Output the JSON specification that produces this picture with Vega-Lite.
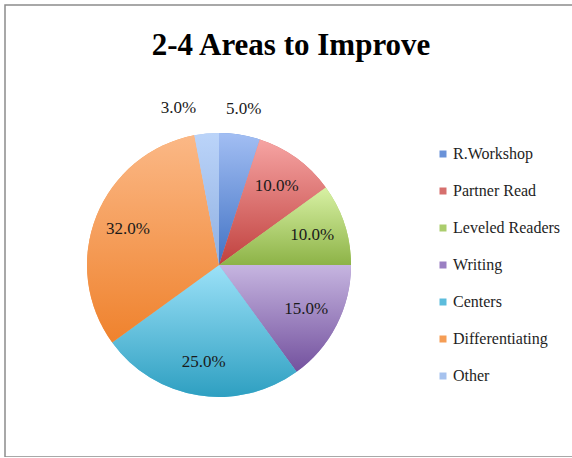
{
  "$schema": "https://vega.github.io/schema/vega-lite/v6.json",
  "autosize": "none",
  "width": 572,
  "height": 452,
  "padding": {"left": 5, "top": 5, "right": 0, "bottom": 0},
  "background": "white",
  "config": {"view": {"stroke": "#8c8c8c", "strokeWidth": 1.5}},
  "title": {
    "text": "2-4 Areas to Improve",
    "font": "Liberation Serif",
    "fontSize": 31,
    "fontWeight": "bold",
    "color": "#000000",
    "anchor": "middle",
    "offset": -58
  },
  "data": {
    "values": [
      {"idx": 1, "area": "R.Workshop", "value": 0.05},
      {"idx": 2, "area": "Partner Read", "value": 0.10},
      {"idx": 3, "area": "Leveled Readers", "value": 0.10},
      {"idx": 4, "area": "Writing", "value": 0.15},
      {"idx": 5, "area": "Centers", "value": 0.25},
      {"idx": 6, "area": "Differentiating", "value": 0.32},
      {"idx": 7, "area": "Other", "value": 0.03}
    ]
  },
  "layer": [
    {
      "data": {"values": [{"frame": 1}]},
      "mark": {"type": "rect", "fill": null, "stroke": "#8c8c8c", "strokeWidth": 1.5},
      "encoding": {}
    },
    {
      "transform": [{"stack": "value", "groupby": [], "sort": [{"field": "idx", "order": "ascending"}], "as": ["v0", "v1"]}],
      "mark": {"type": "arc", "outerRadius": 132, "x": 214, "y": 260},
      "encoding": {
        "theta": {"field": "v0", "type": "quantitative", "scale": {"domain": [0, 1]}},
        "theta2": {"field": "v1"},
        "color": {
          "field": "area",
          "type": "nominal",
          "scale": {
            "domain": ["R.Workshop", "Partner Read", "Leveled Readers", "Writing", "Centers", "Differentiating", "Other"],
            "range": ["#6A92D8", "#D66F6D", "#ABCD6D", "#9A7FC2", "#5CBCDC", "#F59D55", "#A6C2EE"]
          },
          "legend": {
            "orient": "none",
            "legendX": 430,
            "legendY": 141,
            "title": null,
            "labelFont": "Liberation Serif",
            "labelFontSize": 16,
            "labelColor": "#1e1e1e",
            "labelOffset": 2,
            "symbolType": "square",
            "symbolSize": 49,
            "symbolStrokeWidth": 0,
            "rowPadding": 21
          }
        }
      }
    },
    {
      "transform": [{"stack": "value", "groupby": [], "sort": [{"field": "idx", "order": "ascending"}], "as": ["v0", "v1"]}, {"filter": "datum.area === 'R.Workshop'"}],
      "mark": {"type": "arc", "outerRadius": 132, "x": 214, "y": 260, "fill": {"gradient": "linear", "x1": 0, "y1": 0, "x2": 0, "y2": 1, "stops": [{"offset": 0, "color": "#A2BEF3"}, {"offset": 1, "color": "#4172C4"}]}},
      "encoding": {"theta": {"field": "v0", "type": "quantitative", "scale": {"domain": [0, 1]}}, "theta2": {"field": "v1"}}
    },
    {
      "transform": [{"stack": "value", "groupby": [], "sort": [{"field": "idx", "order": "ascending"}], "as": ["v0", "v1"]}, {"filter": "datum.area === 'Partner Read'"}],
      "mark": {"type": "arc", "outerRadius": 132, "x": 214, "y": 260, "fill": {"gradient": "linear", "x1": 0, "y1": 0, "x2": 0, "y2": 1, "stops": [{"offset": 0, "color": "#F6A4A3"}, {"offset": 1, "color": "#C0413E"}]}},
      "encoding": {"theta": {"field": "v0", "type": "quantitative", "scale": {"domain": [0, 1]}}, "theta2": {"field": "v1"}}
    },
    {
      "transform": [{"stack": "value", "groupby": [], "sort": [{"field": "idx", "order": "ascending"}], "as": ["v0", "v1"]}, {"filter": "datum.area === 'Leveled Readers'"}],
      "mark": {"type": "arc", "outerRadius": 132, "x": 214, "y": 260, "fill": {"gradient": "linear", "x1": 0, "y1": 0, "x2": 0, "y2": 1, "stops": [{"offset": 0, "color": "#D8F1A4"}, {"offset": 1, "color": "#8DB347"}]}},
      "encoding": {"theta": {"field": "v0", "type": "quantitative", "scale": {"domain": [0, 1]}}, "theta2": {"field": "v1"}}
    },
    {
      "transform": [{"stack": "value", "groupby": [], "sort": [{"field": "idx", "order": "ascending"}], "as": ["v0", "v1"]}, {"filter": "datum.area === 'Writing'"}],
      "mark": {"type": "arc", "outerRadius": 132, "x": 214, "y": 260, "fill": {"gradient": "linear", "x1": 0, "y1": 0, "x2": 0, "y2": 1, "stops": [{"offset": 0, "color": "#C6B5E0"}, {"offset": 1, "color": "#73519E"}]}},
      "encoding": {"theta": {"field": "v0", "type": "quantitative", "scale": {"domain": [0, 1]}}, "theta2": {"field": "v1"}}
    },
    {
      "transform": [{"stack": "value", "groupby": [], "sort": [{"field": "idx", "order": "ascending"}], "as": ["v0", "v1"]}, {"filter": "datum.area === 'Centers'"}],
      "mark": {"type": "arc", "outerRadius": 132, "x": 214, "y": 260, "fill": {"gradient": "linear", "x1": 0, "y1": 0, "x2": 0, "y2": 1, "stops": [{"offset": 0, "color": "#9CE1F8"}, {"offset": 1, "color": "#2E9FC1"}]}},
      "encoding": {"theta": {"field": "v0", "type": "quantitative", "scale": {"domain": [0, 1]}}, "theta2": {"field": "v1"}}
    },
    {
      "transform": [{"stack": "value", "groupby": [], "sort": [{"field": "idx", "order": "ascending"}], "as": ["v0", "v1"]}, {"filter": "datum.area === 'Differentiating'"}],
      "mark": {"type": "arc", "outerRadius": 132, "x": 214, "y": 260, "fill": {"gradient": "linear", "x1": 0, "y1": 0, "x2": 0, "y2": 1, "stops": [{"offset": 0, "color": "#FBB886"}, {"offset": 1, "color": "#EF822D"}]}},
      "encoding": {"theta": {"field": "v0", "type": "quantitative", "scale": {"domain": [0, 1]}}, "theta2": {"field": "v1"}}
    },
    {
      "transform": [{"stack": "value", "groupby": [], "sort": [{"field": "idx", "order": "ascending"}], "as": ["v0", "v1"]}, {"filter": "datum.area === 'Other'"}],
      "mark": {"type": "arc", "outerRadius": 132, "x": 214, "y": 260, "fill": {"gradient": "linear", "x1": 0, "y1": 0, "x2": 0, "y2": 1, "stops": [{"offset": 0, "color": "#BBD4F9"}, {"offset": 1, "color": "#90B0E2"}]}},
      "encoding": {"theta": {"field": "v0", "type": "quantitative", "scale": {"domain": [0, 1]}}, "theta2": {"field": "v1"}}
    },
    {
      "mark": {"type": "text", "radius": 98, "x": 214, "y": 260, "font": "Liberation Serif", "fontSize": 17, "fill": "#1a1a1a"},
      "encoding": {
        "theta": {"field": "value", "type": "quantitative", "stack": true, "scale": {"domain": [0, 1]}},
        "order": {"field": "idx", "type": "quantitative"},
        "text": {"condition": {"test": "datum.value >= 0.1", "field": "value", "format": ".1%"}, "value": ""}
      }
    },
    {
      "mark": {"type": "text", "radius": 158, "x": 214, "y": 260, "font": "Liberation Serif", "fontSize": 17, "fill": "#1a1a1a"},
      "encoding": {
        "theta": {"field": "value", "type": "quantitative", "stack": true, "scale": {"domain": [0, 1]}},
        "order": {"field": "idx", "type": "quantitative"},
        "text": {"condition": {"test": "datum.area === 'R.Workshop'", "field": "value", "format": ".1%"}, "value": ""}
      }
    },
    {
      "mark": {"type": "text", "radius": 158, "x": 214, "y": 260, "align": "right", "dx": -8, "font": "Liberation Serif", "fontSize": 17, "fill": "#1a1a1a"},
      "encoding": {
        "theta": {"field": "value", "type": "quantitative", "stack": true, "scale": {"domain": [0, 1]}},
        "order": {"field": "idx", "type": "quantitative"},
        "text": {"condition": {"test": "datum.area === 'Other'", "field": "value", "format": ".1%"}, "value": ""}
      }
    }
  ]
}
